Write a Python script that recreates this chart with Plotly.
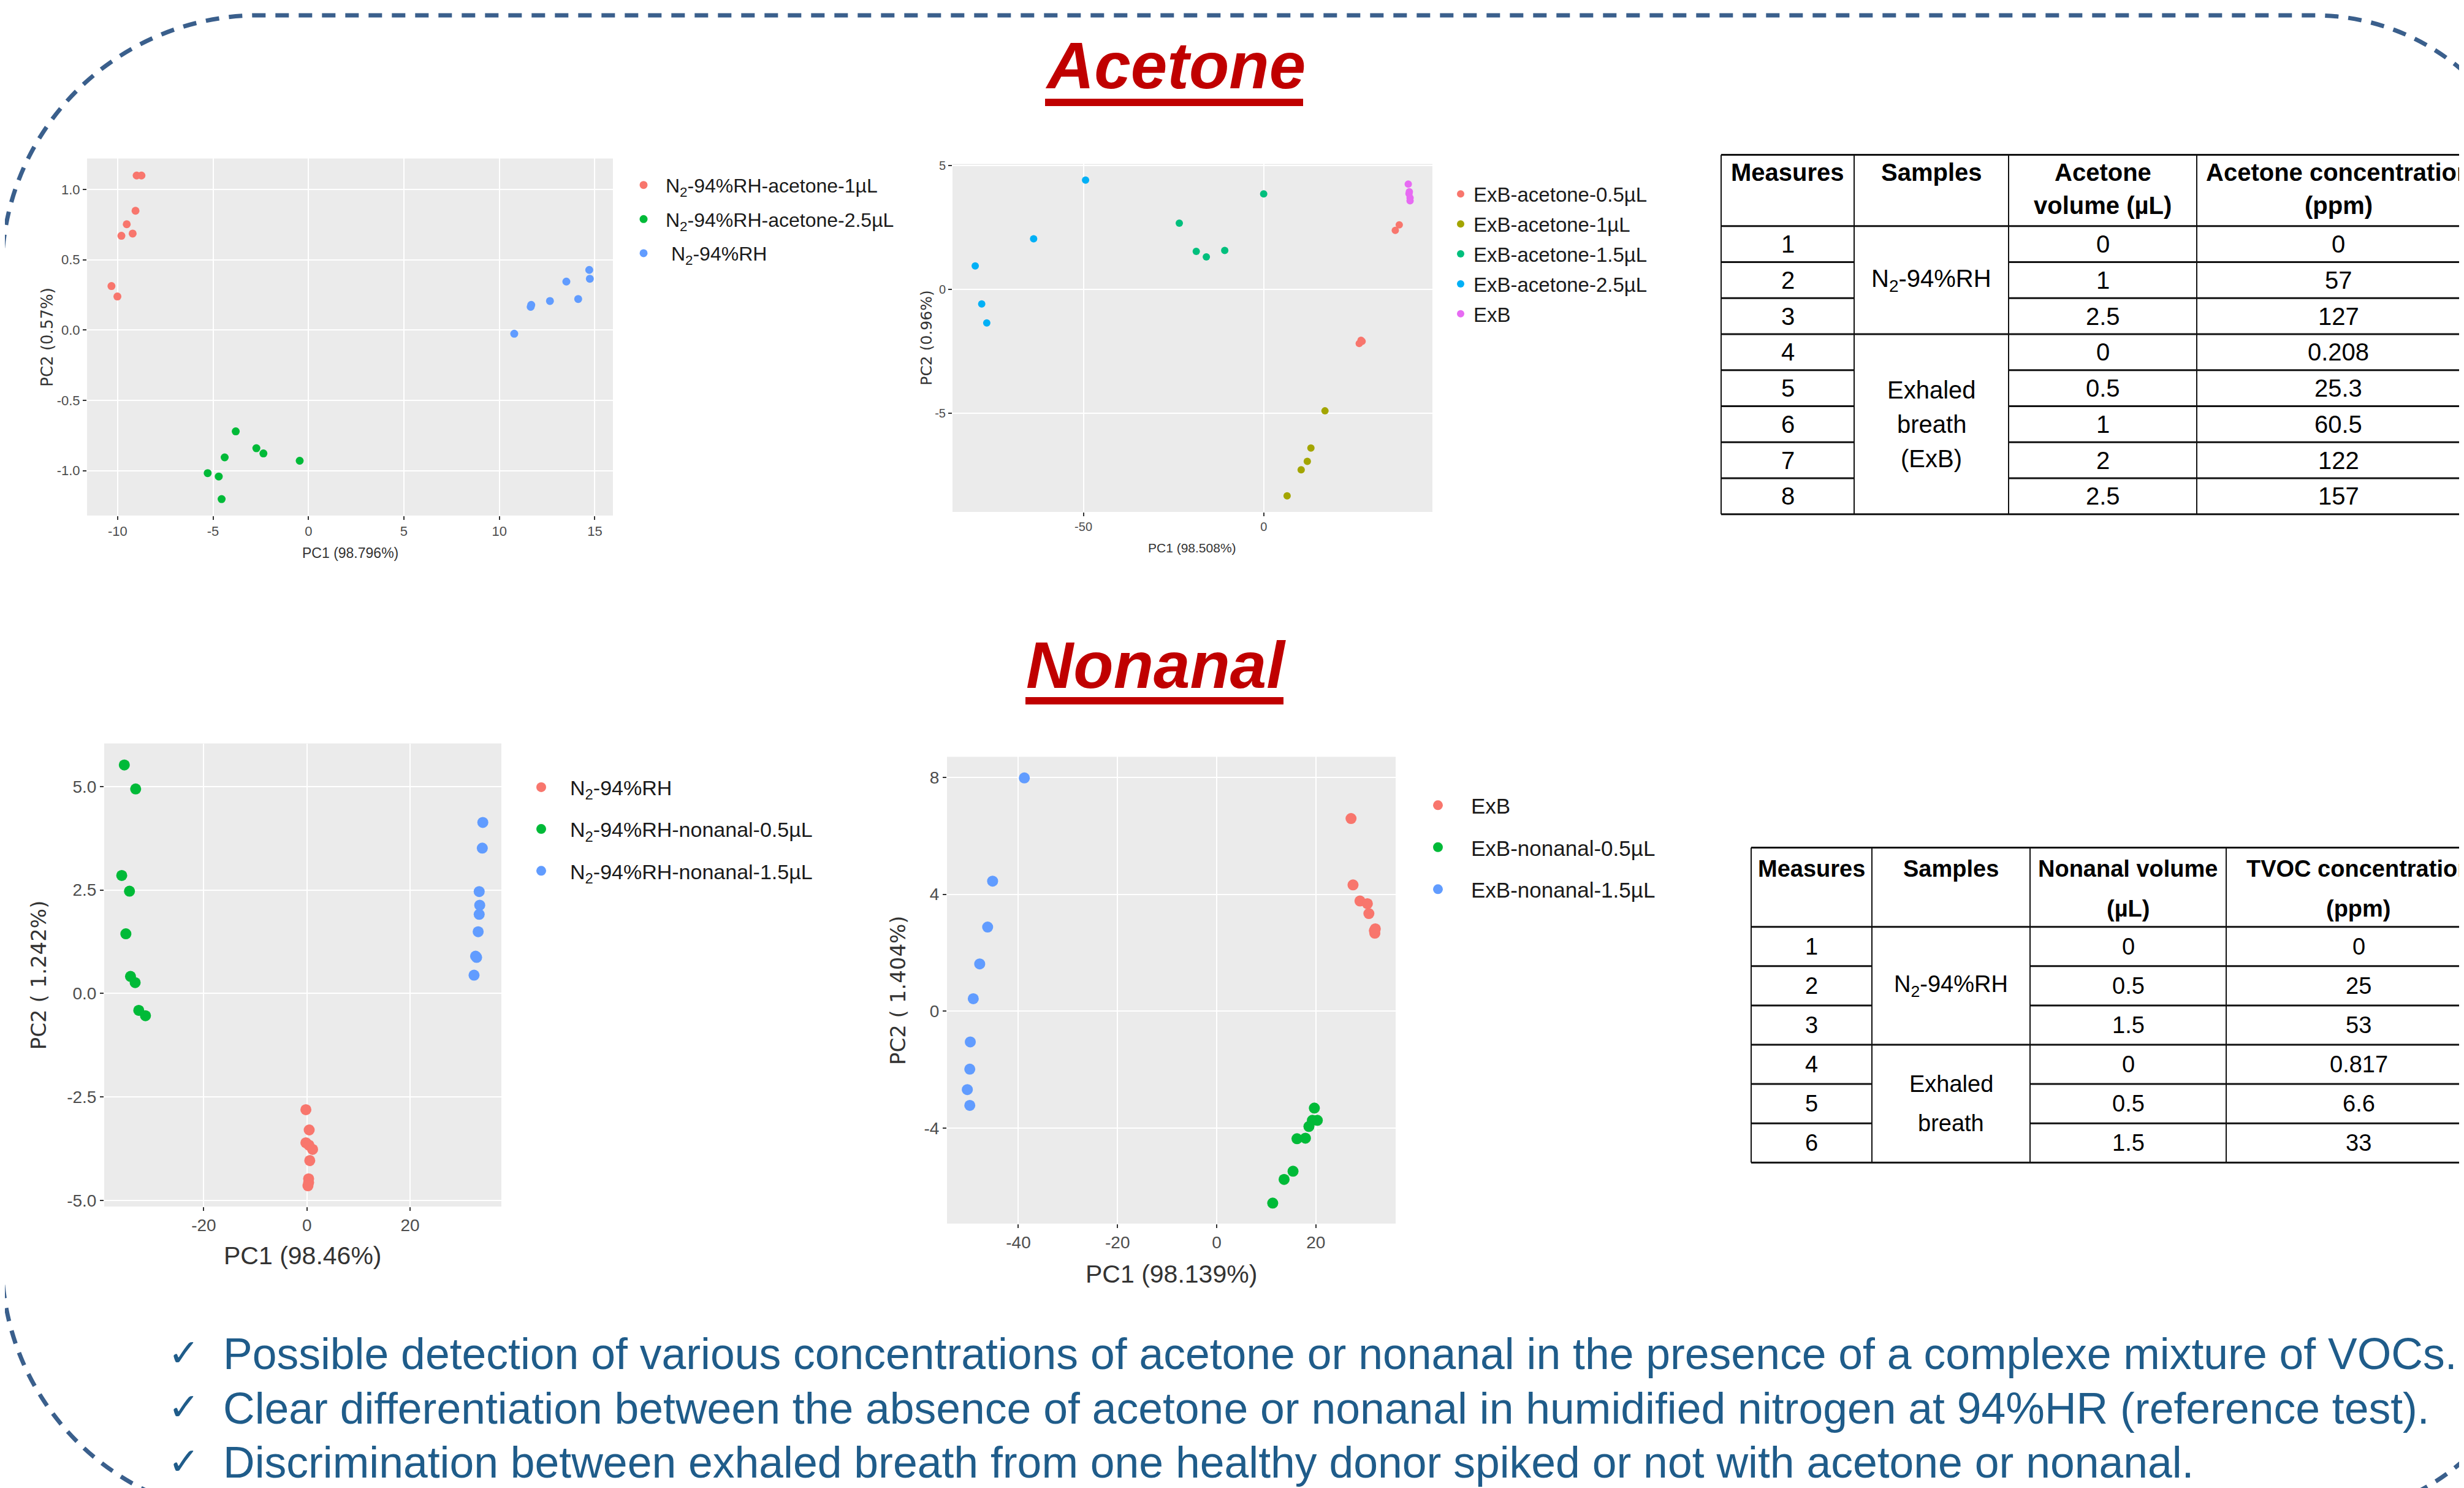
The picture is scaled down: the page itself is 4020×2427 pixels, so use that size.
import plotly.graph_objects as go

W, H = 4020, 2427
OFF = 8  # default page body margin of the written html

# ---------------- DATA ----------------
# Acetone in humidified nitrogen (PCA scores)
acN2_1uL_pc1 = [-9.0, -8.75, -9.06, -9.52, -9.80, -9.21, -10.32, -10.01]
acN2_1uL_pc2 = [1.10, 1.10, 0.849, 0.753, 0.671, 0.687, 0.313, 0.239]
acN2_25uL_pc1 = [-3.81, -2.73, -2.36, -4.39, -0.46, -5.28, -4.70, -4.55]
acN2_25uL_pc2 = [-0.721, -0.841, -0.878, -0.906, -0.930, -1.018, -1.042, -1.203]
acN2_0_pc1 = [14.71, 14.74, 13.51, 12.65, 14.13, 11.67, 11.64, 10.78]
acN2_0_pc2 = [0.428, 0.365, 0.345, 0.207, 0.221, 0.179, 0.165, -0.026]

# Acetone in exhaled breath
acExB_05_pc1 = [37.6, 36.5, 27.0, 26.5, 27.3]
acExB_05_pc2 = [2.60, 2.38, -2.06, -2.19, -2.10]
acExB_1_pc1 = [17.0, 13.1, 12.1, 10.4, 6.5]
acExB_1_pc2 = [-4.91, -6.41, -6.95, -7.29, -8.34]
acExB_15_pc1 = [0.0, -23.4, -18.7, -15.9, -10.8]
acExB_15_pc2 = [3.85, 2.67, 1.53, 1.31, 1.57]
acExB_25_pc1 = [-49.4, -63.8, -80.0, -78.2, -76.8]
acExB_25_pc2 = [4.41, 2.04, 0.94, -0.59, -1.36]
acExB_0_pc1 = [40.1, 40.4, 40.6, 40.6, 40.3]
acExB_0_pc2 = [4.25, 3.94, 3.69, 3.57, 3.86]

# Nonanal in humidified nitrogen
noN2_0_pc1 = [-0.2, 0.44, -0.2, 0.4, 1.1, 0.55, 0.33, 0.33, 0.2]
noN2_0_pc2 = [-2.81, -3.30, -3.61, -3.67, -3.77, -4.04, -4.48, -4.57, -4.65]
noN2_05_pc1 = [-35.4, -33.2, -35.9, -34.4, -35.1, -34.2, -33.3, -32.6, -31.3]
noN2_05_pc2 = [5.52, 4.94, 2.85, 2.47, 1.44, 0.41, 0.26, -0.41, -0.54]
noN2_15_pc1 = [34.1, 34.0, 33.4, 33.5, 33.4, 33.2, 32.7, 32.9, 32.4]
noN2_15_pc2 = [4.13, 3.51, 2.46, 2.13, 1.91, 1.49, 0.90, 0.87, 0.44]

# Nonanal in exhaled breath
noExB_0_pc1 = [27.1, 27.5, 28.9, 30.4, 30.7, 32.0, 31.9, 31.8]
noExB_0_pc2 = [6.59, 4.32, 3.77, 3.68, 3.34, 2.82, 2.67, 2.76]
noExB_05_pc1 = [19.7, 19.3, 20.3, 18.6, 17.9, 16.2, 15.4, 13.6, 11.3]
noExB_05_pc2 = [-3.31, -3.73, -3.73, -3.94, -4.34, -4.36, -5.47, -5.75, -6.56]
noExB_15_pc1 = [-38.8, -45.2, -46.2, -47.8, -49.1, -49.7, -49.8, -50.3, -49.8]
noExB_15_pc2 = [7.98, 4.45, 2.88, 1.62, 0.43, -1.05, -1.98, -2.68, -3.22]

# Legend names
p1_names = ["N<sub>2</sub>-94%RH-acetone-1µL", "N<sub>2</sub>-94%RH-acetone-2.5µL", " N<sub>2</sub>-94%RH"]
p2_names = ["ExB-acetone-0.5µL", "ExB-acetone-1µL", "ExB-acetone-1.5µL", "ExB-acetone-2.5µL", "ExB"]
p3_names = ["N<sub>2</sub>-94%RH", "N<sub>2</sub>-94%RH-nonanal-0.5µL", "N<sub>2</sub>-94%RH-nonanal-1.5µL"]
p4_names = ["ExB", "ExB-nonanal-0.5µL", "ExB-nonanal-1.5µL"]

# Axis titles
p1_xtitle, p1_ytitle = "PC1 (98.796%)", "PC2 (0.57%)"
p2_xtitle, p2_ytitle = "PC1 (98.508%)", "PC2 (0.96%)"
p3_xtitle, p3_ytitle = "PC1 (98.46%)", "PC2 ( 1.242%)"
p4_xtitle, p4_ytitle = "PC1 (98.139%)", "PC2 ( 1.404%)"

# Tick labels
p1_xticks = [-10, -5, 0, 5, 10, 15]
p1_xticklabels = ["-10", "-5", "0", "5", "10", "15"]
p1_yticks = [-1.0, -0.5, 0.0, 0.5, 1.0]
p1_yticklabels = ["-1.0", "-0.5", "0.0", "0.5", "1.0"]
p2_xticks = [-50, 0]
p2_xticklabels = ["-50", "0"]
p2_yticks = [-5, 0, 5]
p2_yticklabels = ["-5", "0", "5"]
p3_xticks = [-20, 0, 20]
p3_xticklabels = ["-20", "0", "20"]
p3_yticks = [-5.0, -2.5, 0.0, 2.5, 5.0]
p3_yticklabels = ["-5.0", "-2.5", "0.0", "2.5", "5.0"]
p4_xticks = [-40, -20, 0, 20]
p4_xticklabels = ["-40", "-20", "0", "20"]
p4_yticks = [-4, 0, 4, 8]
p4_yticklabels = ["-4", "0", "4", "8"]

# Tables
acet_headers = [["Measures"], ["Samples"], ["Acetone", "volume (µL)"], ["Acetone concentration", "(ppm)"]]
acet_measures = ["1", "2", "3", "4", "5", "6", "7", "8"]
acet_samples = [["N<sub>2</sub>-94%RH"], ["Exhaled", "breath", "(ExB)"]]
acet_sample_span = [3, 5]
acet_volume = ["0", "1", "2.5", "0", "0.5", "1", "2", "2.5"]
acet_conc = ["0", "57", "127", "0.208", "25.3", "60.5", "122", "157"]

non_headers = [["Measures"], ["Samples"], ["Nonanal volume", "(µL)"], ["TVOC concentration", "(ppm)"]]
non_measures = ["1", "2", "3", "4", "5", "6"]
non_samples = [["N<sub>2</sub>-94%RH"], ["Exhaled", "breath"]]
non_sample_span = [3, 3]
non_volume = ["0", "0.5", "1.5", "0", "0.5", "1.5"]
non_conc = ["0", "25", "53", "0.817", "6.6", "33"]

titles = ["Acetone", "Nonanal"]
conclusions = [
    "Possible detection of various concentrations of acetone or nonanal in the presence of a complexe mixture of VOCs.",
    "Clear differentiation between the absence of acetone or nonanal in humidified nitrogen at 94%HR (reference test).",
    "Discrimination between exhaled breath from one healthy donor spiked or not with acetone or nonanal.",
]

# ---------------- STYLE ----------------
COL3 = ["#F8766D", "#00BA38", "#619CFF"]
COL5 = ["#F8766D", "#A3A500", "#00BF7D", "#00B0F6", "#E76BF3"]
SANS = "Liberation Sans, Arial, sans-serif"
WIDE = "DejaVu Sans, Verdana, sans-serif"
RED = "#C00000"
BLUE_TXT = "#1F5C8A"
BORDER = "#3A5F8C"


def fx(x):
    return (x - OFF) / W


def fy(y):
    return 1 - (y - OFF) / H


fig = go.Figure()

panels = [
    # (axis suffix, x-domain px, y-domain px, xrange, yrange, legend, marker size)
    ("", (142, 1000), (251, 837), (-11.6, 15.95), (-1.32, 1.221), "legend", 13),
    ("2", (1554, 2337), (260, 831), (-86.3, 46.8), (-8.99, 5.06), "legend2", 12),
    ("3", (170, 818), (1211, 1971), (-39.3, 37.7), (-5.15, 6.04), "legend3", 18),
    ("4", (1545, 2277), (1233, 1999), (-54.4, 36.1), (-7.26, 8.70), "legend4", 18),
]

series = [
    [(p1_names[0], acN2_1uL_pc1, acN2_1uL_pc2, COL3[0]),
     (p1_names[1], acN2_25uL_pc1, acN2_25uL_pc2, COL3[1]),
     (p1_names[2], acN2_0_pc1, acN2_0_pc2, COL3[2])],
    [(p2_names[0], acExB_05_pc1, acExB_05_pc2, COL5[0]),
     (p2_names[1], acExB_1_pc1, acExB_1_pc2, COL5[1]),
     (p2_names[2], acExB_15_pc1, acExB_15_pc2, COL5[2]),
     (p2_names[3], acExB_25_pc1, acExB_25_pc2, COL5[3]),
     (p2_names[4], acExB_0_pc1, acExB_0_pc2, COL5[4])],
    [(p3_names[0], noN2_0_pc1, noN2_0_pc2, COL3[0]),
     (p3_names[1], noN2_05_pc1, noN2_05_pc2, COL3[1]),
     (p3_names[2], noN2_15_pc1, noN2_15_pc2, COL3[2])],
    [(p4_names[0], noExB_0_pc1, noExB_0_pc2, COL3[0]),
     (p4_names[1], noExB_05_pc1, noExB_05_pc2, COL3[1]),
     (p4_names[2], noExB_15_pc1, noExB_15_pc2, COL3[2])],
]

ticks = [
    (p1_xticks, p1_xticklabels, p1_yticks, p1_yticklabels, 22),
    (p2_xticks, p2_xticklabels, p2_yticks, p2_yticklabels, 20),
    (p3_xticks, p3_xticklabels, p3_yticks, p3_yticklabels, 28),
    (p4_xticks, p4_xticklabels, p4_yticks, p4_yticklabels, 28),
]

for (suf, xd, yd, xr, yr, leg, ms), ser, tk in zip(panels, series, ticks):
    for k, (name, xs, ys, c) in enumerate(ser):
        fig.add_trace(go.Scatter(
            x=xs, y=ys, mode="markers", name=name,
            marker=dict(color=c, size=ms, line=dict(width=0)),
            xaxis="x" + suf, yaxis="y" + suf, legend=leg,
            legendgroup=leg + str(k),
        ))
    xt, xtl, yt, ytl, tfs = tk
    axcommon = dict(showgrid=True, gridcolor="white", gridwidth=2, zeroline=False,
                    showline=False, ticks="outside", ticklen=6, tickwidth=2,
                    tickcolor="#333333",
                    tickfont=dict(family=SANS, size=tfs, color="#4D4D4D"))
    fig.update_layout(**{
        "xaxis" + suf: dict(domain=[fx(xd[0]), fx(xd[1])], range=list(xr),
                            anchor="y" + suf, tickvals=xt, ticktext=xtl, **axcommon),
        "yaxis" + suf: dict(domain=[fy(yd[1]), fy(yd[0])], range=list(yr),
                            anchor="x" + suf, tickvals=yt, ticktext=ytl, **axcommon),
    })

# ---------- legends ----------
legends = {
    # name: (text start x, top y, font size, itemwidth, gap between items)
    "legend": (1086, 267, 32, 62, 11),
    "legend2": (2404, 281, 33, 32, 3),
    "legend3": (930, 1254, 34, 84, 21),
    "legend4": (2400, 1283, 35, 98, 20),
}
for name, (tx, ty, fs, iw, gap) in legends.items():
    fig.update_layout(**{name: dict(
        x=fx(tx - iw - 10), y=fy(ty), xanchor="left", yanchor="top",
        xref="paper", yref="paper",
        font=dict(family=SANS, size=fs, color="#1a1a1a"),
        bgcolor="rgba(0,0,0,0)", itemwidth=iw, tracegroupgap=gap,
        traceorder="grouped",
    )})

annotations = []
shapes = []

# ---------- axis titles ----------
axis_titles = [
    (p1_xtitle, 571, 899, 23, SANS, 0), (p1_ytitle, 77, 544, 26, WIDE, -90),
    (p2_xtitle, 1945, 890, 21, SANS, 0), (p2_ytitle, 1512, 546, 25, WIDE, -90),
    (p3_xtitle, 494, 2052, 41, SANS, 0), (p3_ytitle, 63, 1591, 34, WIDE, -90),
    (p4_xtitle, 1911, 2082, 41, SANS, 0), (p4_ytitle, 1465, 1616, 34, WIDE, -90),
]
for txt, x, y, fs, fam, ang in axis_titles:
    annotations.append(dict(text=txt, x=fx(x), y=fy(y), xref="paper", yref="paper",
                            xanchor="center", yanchor="middle", showarrow=False,
                            textangle=ang, font=dict(family=fam, size=fs, color="#333333")))

# ---------- section titles ----------
title_pos = [(1917, 99, (1705, 2126), (153, 165)), (1886, 1083, (1673, 2094), (1135, 1147))]
for t, (x, y, ux, uy) in zip(titles, title_pos):
    annotations.append(dict(text="<b><i>" + t + "</i></b>", x=fx(x), y=fy(y),
                            xref="paper", yref="paper", xanchor="center", yanchor="middle",
                            showarrow=False, font=dict(family=SANS, size=107, color=RED)))
    shapes.append(dict(type="rect", xref="paper", yref="paper",
                       x0=fx(ux[0]), x1=fx(ux[1]), y0=fy(uy[1]), y1=fy(uy[0]),
                       fillcolor=RED, line=dict(width=0)))


# ---------- tables ----------
def hline(x0, x1, y, w=3):
    shapes.append(dict(type="line", xref="paper", yref="paper",
                       x0=fx(x0), x1=fx(x1), y0=fy(y), y1=fy(y),
                       line=dict(color="#111111", width=w)))


def vline(x, y0, y1, w=2):
    shapes.append(dict(type="line", xref="paper", yref="paper",
                       x0=fx(x), x1=fx(x), y0=fy(y0), y1=fy(y1),
                       line=dict(color="#111111", width=w)))


def text(t, x, y, fs, bold=False):
    annotations.append(dict(text=("<b>" + t + "</b>") if bold else t, x=fx(x), y=fy(y),
                            xref="paper", yref="paper", xanchor="center", yanchor="middle",
                            showarrow=False, font=dict(family=SANS, size=fs, color="black")))


def multiline(lines, x, yc, fs, spacing):
    n = len(lines)
    for i, ln in enumerate(lines):
        text(ln, x, yc + (i - (n - 1) / 2) * spacing, fs)


def draw_table(cols, top, hbottom, rowh, headers, hoffs, measures, samples, spans,
               vols, concs, fs, spacing):
    n = len(measures)
    rows = [hbottom + i * rowh for i in range(n + 1)]
    bottom = rows[-1]
    gb = set()
    acc = 0
    for s in spans:
        acc += s
        gb.add(acc)
    hline(cols[0], cols[-1], top)
    hline(cols[0], cols[-1], hbottom)
    for i in range(1, n + 1):
        if i in gb:
            hline(cols[0], cols[-1], rows[i])
        else:
            hline(cols[0], cols[1], rows[i])
            hline(cols[2], cols[-1], rows[i])
    for c in cols:
        vline(c, top, bottom)
    centers = [(cols[i] + cols[i + 1]) / 2 for i in range(len(cols) - 1)]
    for ci, hdr in enumerate(headers):
        for li, ln in enumerate(hdr):
            text(ln, centers[ci], top + hoffs[li], fs, bold=True)
    for i in range(n):
        yc = (rows[i] + rows[i + 1]) / 2
        text(measures[i], centers[0], yc, fs)
        text(vols[i], centers[2], yc, fs)
        text(concs[i], centers[3], yc, fs)
    start = 0
    for lines, s in zip(samples, spans):
        yc = (rows[start] + rows[start + s]) / 2
        multiline(lines, centers[1], yc, fs, spacing)
        start += s


draw_table([2808, 3025, 3277, 3584, 4046], 245, 362, 59.1, acet_headers, [29, 83],
           acet_measures, acet_samples, acet_sample_span, acet_volume, acet_conc, 40, 56)
draw_table([2857, 3054, 3312, 3632, 4064], 1382, 1512, 64.5, non_headers, [35, 100],
           non_measures, non_samples, non_sample_span, non_volume, non_conc, 38, 65)

# ---------- conclusions ----------
for i, line in enumerate(conclusions):
    yc = 2213 + i * 89
    annotations.append(dict(text="✓", x=fx(272), y=fy(yc - 2), xref="paper", yref="paper",
                            xanchor="left", yanchor="middle", showarrow=False,
                            font=dict(family="DejaVu Sans", size=62, color=BLUE_TXT)))
    annotations.append(dict(text=line, x=fx(362), y=fy(yc), xref="paper", yref="paper",
                            xanchor="left", yanchor="middle", showarrow=False,
                            font=dict(family=SANS, size=71.5, color=BLUE_TXT)))

# ---------- dashed rounded border ----------
L, T, R, B = 3, 16, 4145, 2480
rTL, rTR, rBR, rBL = 420, 370, 370, 420
k = 0.5523


def P(x, y):
    return "%.5f,%.5f" % (fx(x), fy(y))


path = ("M " + P(L, T + rTL) +
        " C " + P(L, T + rTL * (1 - k)) + " " + P(L + rTL * (1 - k), T) + " " + P(L + rTL, T) +
        " L " + P(R - rTR, T) +
        " C " + P(R - rTR * (1 - k), T) + " " + P(R, T + rTR * (1 - k)) + " " + P(R, T + rTR) +
        " L " + P(R, B - rBR) +
        " C " + P(R, B - rBR * (1 - k)) + " " + P(R - rBR * (1 - k), B) + " " + P(R - rBR, B) +
        " L " + P(L + rBL, B) +
        " C " + P(L + rBL * (1 - k), B) + " " + P(L, B - rBL * (1 - k)) + " " + P(L, B - rBL) +
        " Z")
shapes.append(dict(type="path", path=path, xref="paper", yref="paper",
                   line=dict(color=BORDER, width=7, dash="22px,16px"), layer="below"))

fig.update_layout(
    width=W, height=H, margin=dict(l=0, r=0, t=0, b=0),
    paper_bgcolor="white", plot_bgcolor="#EBEBEB",
    annotations=annotations, shapes=shapes, showlegend=True,
    font=dict(family=SANS),
)

fig.write_html("out.html")
